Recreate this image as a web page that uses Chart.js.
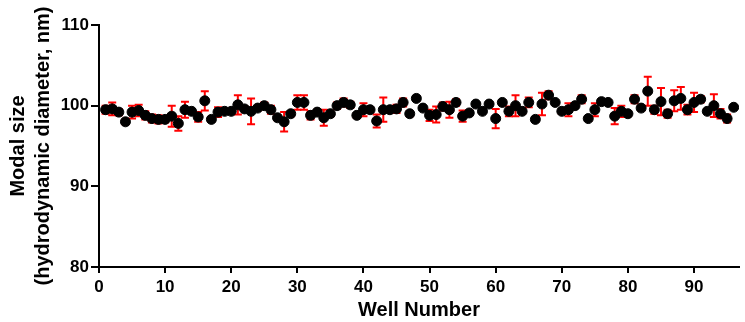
<!DOCTYPE html>
<html>
<head>
<meta charset="utf-8">
<script src="https://cdn.jsdelivr.net/npm/chart.js@4.4.0/dist/chart.umd.min.js"></script>
<style>
  body { margin: 0; background: #fff; }
  canvas { display: block; }
</style>
</head>
<body>
<canvas id="sizeChart" width="745" height="322"></canvas>
<script>
// wells 1..96
const wellNumbers = Array.from({ length: 96 }, (_, i) => i + 1);

const modalSize = [
  99.5, 99.6, 99.2, 98.0, 99.2, 99.4, 98.8, 98.4, 98.3, 98.3,
  98.7, 97.8, 99.5, 99.3, 98.6, 100.6, 98.3, 99.2, 99.3, 99.3,
  100.1, 99.6, 99.3, 99.7, 100.0, 99.5, 98.5, 98.0, 99.0, 100.4,
  100.4, 98.8, 99.2, 98.5, 99.0, 100.0, 100.4, 100.1, 98.8, 99.5,
  99.5, 98.1, 99.5, 99.5, 99.6, 100.4, 99.0, 100.9, 99.7, 98.8,
  98.9, 99.9, 99.5, 100.4, 98.7, 99.1, 100.2, 99.3, 100.2, 98.4,
  100.4, 99.3, 100.0, 99.3, 100.4, 98.3, 100.2, 101.3, 100.4, 99.3,
  99.5, 100.0, 100.8, 98.4, 99.5, 100.5, 100.4, 98.7, 99.3, 99.0,
  100.8, 99.7, 101.8, 99.5, 100.5, 99.0, 100.6, 100.9, 99.5, 100.4,
  100.8, 99.3, 100.0, 99.0, 98.4, 99.8
];

const sizeError = [
  0.5, 0.8, 0.4, 0.3, 0.8, 0.7, 0.5, 0.5, 0.5, 0.4,
  1.3, 0.9, 1.0, 0.3, 0.6, 1.2, 0.3, 0.6, 0.2, 0.2,
  1.2, 0.3, 1.6, 0.3, 0.4, 0.5, 0.3, 1.2, 0.3, 0.9,
  0.9, 0.5, 0.3, 1.0, 0.3, 0.4, 0.5, 0.4, 0.3, 0.8,
  0.3, 0.8, 1.5, 0.3, 0.5, 0.5, 0.3, 0.3, 0.2, 0.7,
  1.0, 0.5, 1.0, 0.4, 0.7, 0.3, 0.2, 0.2, 0.2, 1.2,
  0.3, 0.6, 1.3, 0.3, 0.6, 0.3, 1.4, 0.5, 0.3, 0.3,
  0.8, 0.3, 0.5, 0.3, 0.8, 0.3, 0.3, 1.0, 0.7, 0.3,
  0.5, 0.3, 1.8, 0.5, 1.7, 0.5, 1.3, 1.4, 0.6, 1.2,
  0.4, 0.3, 1.4, 0.6, 0.5, 0.2
];

const xTickLabels = [0, 10, 20, 30, 40, 50, 60, 70, 80, 90];
const yTickLabels = [80, 90, 100, 110];

const fontFamily = "'Liberation Sans', Arial, sans-serif";

// red SD bars drawn under the dots
const errorBars = {
  id: 'errorBars',
  beforeDatasetsDraw(chart) {
    const { ctx, scales: { x, y } } = chart;
    ctx.save();
    ctx.strokeStyle = '#ff0000';
    ctx.lineWidth = 2;
    wellNumbers.forEach((w, i) => {
      const px = x.getPixelForValue(w);
      const top = y.getPixelForValue(modalSize[i] + sizeError[i]);
      const bot = y.getPixelForValue(modalSize[i] - sizeError[i]);
      ctx.beginPath();
      ctx.moveTo(px, top);
      ctx.lineTo(px, bot);
      ctx.moveTo(px - 4, top);
      ctx.lineTo(px + 4, top);
      ctx.moveTo(px - 4, bot);
      ctx.lineTo(px + 4, bot);
      ctx.stroke();
    });
    ctx.restore();
  }
};

new Chart(document.getElementById('sizeChart'), {
  type: 'scatter',
  data: {
    datasets: [{
      label: 'Modal size',
      data: wellNumbers.map((w, i) => ({ x: w, y: modalSize[i] })),
      backgroundColor: '#000000',
      borderColor: '#000000',
      pointRadius: 5,
      pointHoverRadius: 5
    }]
  },
  plugins: [errorBars],
  options: {
    responsive: false,
    animation: false,
    layout: { padding: { top: 25, right: 0, left: 0, bottom: 0 } },
    plugins: {
      legend: { display: false },
      tooltip: { enabled: false }
    },
    scales: {
      x: {
        type: 'linear',
        min: 0,
        max: 96.8,
        afterFit: (scale) => { scale.height = 55; },
        afterBuildTicks: (scale) => { scale.ticks = xTickLabels.map(v => ({ value: v })); },
        border: { color: '#000', width: 2 },
        grid: { drawOnChartArea: false, drawTicks: true, tickLength: 6, color: '#000', lineWidth: 2 },
        ticks: {
          color: '#000',
          padding: 4,
          maxRotation: 0,
          font: { family: fontFamily, size: 17, weight: 'bold' }
        },
        title: {
          display: true,
          text: 'Well Number',
          color: '#000',
          padding: { top: 0, bottom: 0 },
          font: { family: fontFamily, size: 20, weight: 'bold' }
        }
      },
      y: {
        min: 80,
        max: 110,
        afterFit: (scale) => { scale.width = 99; },
        afterBuildTicks: (scale) => { scale.ticks = yTickLabels.map(v => ({ value: v })); },
        border: { color: '#000', width: 2 },
        grid: { drawOnChartArea: false, drawTicks: true, tickLength: 8, color: '#000', lineWidth: 2 },
        ticks: {
          color: '#000',
          padding: 2,
          font: { family: fontFamily, size: 17, weight: 'bold' }
        },
        title: {
          display: true,
          text: ['Modal size', '(hydrodynamic diameter, nm)'],
          color: '#000',
          padding: { top: 6, bottom: 0 },
          font: { family: fontFamily, size: 20, weight: 'bold', lineHeight: 1.25 }
        }
      }
    }
  }
});
</script>
</body>
</html>
